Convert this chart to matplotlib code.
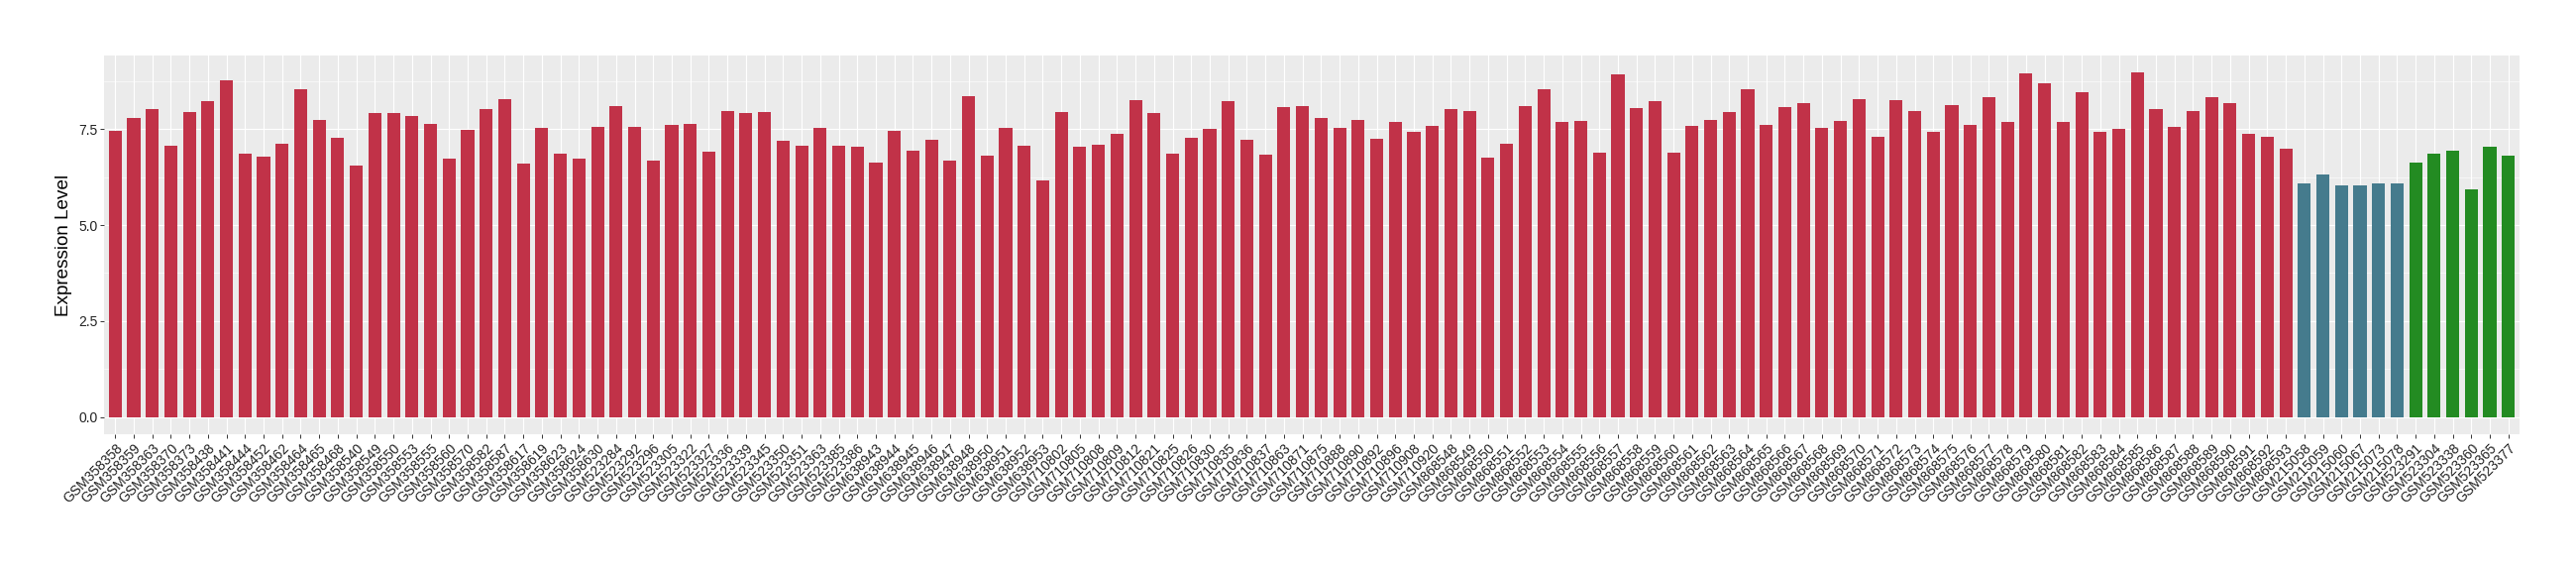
import numpy as np
import matplotlib
matplotlib.use('Agg')
import matplotlib.pyplot as plt
from matplotlib.ticker import MultipleLocator

plt.rcParams['font.family'] = ['Liberation Sans', 'DejaVu Sans']

# group 1 (red)
group1_samples = [
    'GSM358358', 'GSM358359', 'GSM358363', 'GSM358370', 'GSM358373', 'GSM358438', 'GSM358441',
    'GSM358444', 'GSM358452', 'GSM358462', 'GSM358464', 'GSM358465', 'GSM358468', 'GSM358540',
    'GSM358549', 'GSM358550', 'GSM358553', 'GSM358555', 'GSM358560', 'GSM358570', 'GSM358582',
    'GSM358587', 'GSM358617', 'GSM358619', 'GSM358623', 'GSM358624', 'GSM358630', 'GSM523284',
    'GSM523292', 'GSM523296', 'GSM523305', 'GSM523322', 'GSM523327', 'GSM523336', 'GSM523339',
    'GSM523345', 'GSM523350', 'GSM523351', 'GSM523363', 'GSM523385', 'GSM523386', 'GSM638943',
    'GSM638944', 'GSM638945', 'GSM638946', 'GSM638947', 'GSM638948', 'GSM638950', 'GSM638951',
    'GSM638952', 'GSM638953', 'GSM710802', 'GSM710805', 'GSM710808', 'GSM710809', 'GSM710812',
    'GSM710821', 'GSM710825', 'GSM710826', 'GSM710830', 'GSM710835', 'GSM710836', 'GSM710837',
    'GSM710863', 'GSM710871', 'GSM710875', 'GSM710888', 'GSM710890', 'GSM710892', 'GSM710896',
    'GSM710908', 'GSM710920', 'GSM868548', 'GSM868549', 'GSM868550', 'GSM868551', 'GSM868552',
    'GSM868553', 'GSM868554', 'GSM868555', 'GSM868556', 'GSM868557', 'GSM868558', 'GSM868559',
    'GSM868560', 'GSM868561', 'GSM868562', 'GSM868563', 'GSM868564', 'GSM868565', 'GSM868566',
    'GSM868567', 'GSM868568', 'GSM868569', 'GSM868570', 'GSM868571', 'GSM868572', 'GSM868573',
    'GSM868574', 'GSM868575', 'GSM868576', 'GSM868577', 'GSM868578', 'GSM868579', 'GSM868580',
    'GSM868581', 'GSM868582', 'GSM868583', 'GSM868584', 'GSM868585', 'GSM868586', 'GSM868587',
    'GSM868588', 'GSM868589', 'GSM868590', 'GSM868591', 'GSM868592', 'GSM868593',
]
group1_values = [
    7.45, 7.80, 8.03, 7.08, 7.95, 8.22, 8.78,
    6.87, 6.78, 7.12, 8.53, 7.75, 7.28, 6.55,
    7.92, 7.92, 7.85, 7.63, 6.72, 7.47, 8.03,
    8.28, 6.60, 7.53, 6.85, 6.72, 7.55, 8.10,
    7.55, 6.67, 7.60, 7.63, 6.92, 7.97, 7.92,
    7.95, 7.20, 7.08, 7.53, 7.08, 7.05, 6.62,
    7.45, 6.95, 7.22, 6.67, 8.35, 6.80, 7.53,
    7.08, 6.17, 7.95, 7.03, 7.10, 7.38, 8.25,
    7.92, 6.87, 7.28, 7.50, 8.22, 7.22, 6.83,
    8.08, 8.10, 7.78, 7.53, 7.75, 7.25, 7.70,
    7.42, 7.58, 8.03, 7.97, 6.75, 7.12, 8.10,
    8.53, 7.70, 7.72, 6.90, 8.93, 8.05, 8.22,
    6.90, 7.58, 7.75, 7.95, 8.53, 7.60, 8.08,
    8.17, 7.53, 7.72, 8.28, 7.30, 8.25, 7.97,
    7.42, 8.13, 7.60, 8.33, 7.70, 8.95, 8.70,
    7.70, 8.47, 7.42, 7.50, 8.97, 8.03, 7.55,
    7.97, 8.33, 8.17, 7.38, 7.30, 7.00,
]

# group 2 (blue)
group2_samples = ['GSM215058', 'GSM215059', 'GSM215060', 'GSM215067', 'GSM215073', 'GSM215078']
group2_values = [6.08, 6.33, 6.03, 6.03, 6.09, 6.09]

# group 3 (green)
group3_samples = ['GSM523291', 'GSM523304', 'GSM523338', 'GSM523360', 'GSM523365', 'GSM523377']
group3_values = [6.62, 6.85, 6.95, 5.92, 7.05, 6.80]

group_colors = ['#C13248', '#457B8D', '#238B22']

samples = group1_samples + group2_samples + group3_samples
values = group1_values + group2_values + group3_values
colors = ([group_colors[0]] * len(group1_samples) + [group_colors[1]] * len(group2_samples)
          + [group_colors[2]] * len(group3_samples))

fig = plt.figure(figsize=(26, 5.8), dpi=100)
ax = fig.add_axes([105 / 2600, 1 - 438 / 580, (2543 - 105) / 2600, (438 - 56) / 580])

x = np.arange(len(samples))
ax.set_facecolor('#EBEBEB')
ax.bar(x, values, width=0.7, color=colors, zorder=3)

n = len(samples)
ax.set_xlim(-0.6, n - 1 + 0.6)
ymax = max(values)
ax.set_ylim(-0.05 * ymax, ymax * 1.05)

ax.yaxis.set_minor_locator(MultipleLocator(1.25))
ax.set_yticks([0, 2.5, 5, 7.5])
ax.set_yticklabels(['0.0', '2.5', '5.0', '7.5'])
ax.set_xticks(x)
ax.set_xticklabels(samples, rotation=45, ha='right', va='top', rotation_mode='anchor')

ax.grid(True, which='major', color='white', linewidth=0.8, zorder=0)
ax.grid(True, which='minor', axis='y', color='white', linewidth=0.4, zorder=0)
ax.set_axisbelow(True)

for s in ax.spines.values():
    s.set_visible(False)

ax.tick_params(axis='both', which='major', length=2.8, width=0.7, color='#333333',
               labelsize=10, labelcolor='#222222', pad=2)
ax.tick_params(axis='y', which='minor', length=0)

ax.set_ylabel('Expression Level', fontsize=13.6, color='black', labelpad=4)

fig.savefig('out.png', dpi=100, facecolor='white')
